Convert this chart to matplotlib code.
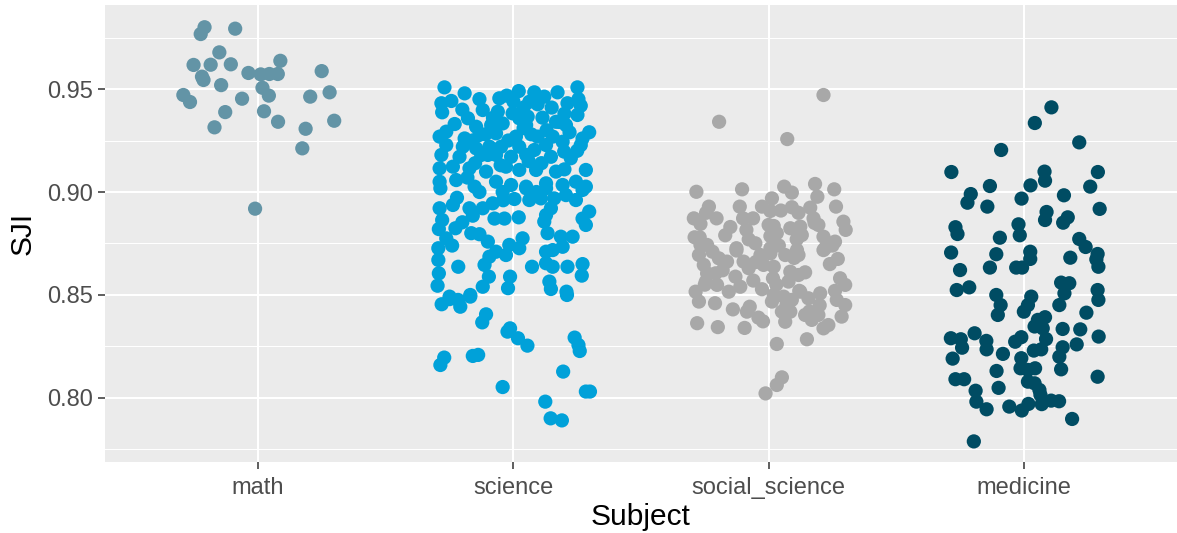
import matplotlib
matplotlib.use("Agg")
import matplotlib.pyplot as plt
from matplotlib.ticker import FixedLocator

plt.rcParams['font.family'] = ['Liberation Sans', 'DejaVu Sans']

categories = ["math", "science", "social_science", "medicine"]
colors = ["#6394A6", "#00A1D9", "#A8A8A8", "#004C63"]

math_off = [-0.21, -0.225, -0.09, -0.152, -0.253, -0.186, -0.107, 0.087, -0.22, -0.214,
            -0.038, 0.01, 0.044, 0.077, 0.249, -0.145, 0.017, -0.293, -0.267, -0.063,
            0.042, 0.204, 0.28, -0.129, 0.023, 0.078, 0.298, -0.171, 0.186, 0.173, -0.012]
math_sji = [0.980, 0.9767, 0.9793, 0.9678, 0.9617, 0.9618, 0.962, 0.9637, 0.956, 0.9544,
            0.9578, 0.9571, 0.9573, 0.9573, 0.9587, 0.9519, 0.9506, 0.9471, 0.9437, 0.9453,
            0.9468, 0.9463, 0.9484, 0.9388, 0.9392, 0.9341, 0.9346, 0.9314, 0.9307, 0.9212, 0.8919]

science_off = [
    -0.27, -0.191, -0.133, -0.055, -0.026, 0.021, 0.082, 0.121, 0.173, 0.251,
    -0.282, -0.243, -0.279, 0.0625, 0.095, 0.212, 0.255, 0.264,
    -0.12, -0.061, -0.003, -0.178, 0.023, 0.056, 0.114, 0.251, 0.167,
    -0.146, -0.087, -0.042, 0.05, 0.206,
    -0.263, -0.289, 0.297, 0.271, -0.191, -0.133, -0.068, 0.01, 0.095, 0.154, 0.193,
    -0.263, 0.264, -0.198, -0.146, -0.094, -0.048, 0.023, 0.082, 0.128, 0.199,
    -0.282, -0.211, -0.126, -0.068, -0.009, 0.05, 0.147, 0.225,
    -0.289, -0.237, -0.172, -0.107, -0.029, 0.023, 0.089, 0.167, 0.284,
    -0.289, -0.224, -0.152, -0.068, -0.009, 0.05, 0.128, 0.193, 0.245, 0.284,
    -0.16, -0.11, -0.02, 0.04, 0.07, 0.13, 0.18, 0.22, -0.23, -0.2, -0.08, 0.0, 0.04,
    0.15, 0.2, -0.15, -0.05, 0.11, 0.2, 0.25, -0.1, 0.06, -0.18, 0.09, -0.04,
    -0.286, -0.289, -0.279, -0.292, -0.263, -0.294, -0.24, -0.294, -0.292, -0.297,
    -0.216, -0.237, -0.221, -0.2, -0.227, -0.172, -0.159, -0.165, -0.133, -0.1,
    -0.12, -0.133, -0.074, -0.081, -0.035, -0.042, 0.004, 0.021, -0.068, -0.094,
    -0.113, -0.029, -0.016, 0.023, 0.036, -0.096, -0.12, -0.013, -0.021, -0.169,
    -0.25, -0.217, 0.0625, 0.108, 0.05, 0.128, 0.16, 0.206, 0.245, 0.271,
    0.128, 0.147, 0.121, 0.134, 0.186, 0.232, 0.284, 0.297, 0.271, 0.128,
    0.154, 0.193, 0.128, 0.154, 0.073, 0.212, 0.271, 0.268, 0.141, 0.147, 0.208,
    -0.281, -0.25, -0.208, -0.169, -0.107, -0.122, -0.013, -0.023, 0.018, 0.055,
    0.24, 0.255, 0.26, -0.271, -0.286, -0.159, -0.138, 0.195, -0.042, 0.284,
    0.3, 0.125, 0.146, 0.19, 0.21]
science_sji = [
    0.9508, 0.9479, 0.9451, 0.9455, 0.9468, 0.949, 0.9484, 0.9463, 0.9484, 0.9508,
    0.9431, 0.9442, 0.9387, 0.9438, 0.9426, 0.9431, 0.9451, 0.9419,
    0.9398, 0.939, 0.9382, 0.9358, 0.9358, 0.9366, 0.9361, 0.9374, 0.9341,
    0.9317, 0.9325, 0.9333, 0.9325, 0.9325,
    0.9293, 0.9269, 0.929, 0.926, 0.926, 0.9277, 0.9285, 0.9269, 0.9269, 0.9269, 0.9244,
    0.9228, 0.9228, 0.922, 0.9212, 0.922, 0.922, 0.922, 0.9204, 0.9228, 0.9196,
    0.918, 0.9171, 0.918, 0.918, 0.9171, 0.918, 0.9171, 0.9164,
    0.9115, 0.9123, 0.9115, 0.9099, 0.9123, 0.9107, 0.9107, 0.9099, 0.9107,
    0.905, 0.9058, 0.9026, 0.905, 0.9034, 0.9026, 0.9042, 0.9034, 0.905, 0.9026,
    0.925, 0.928, 0.925, 0.931, 0.928, 0.93, 0.934, 0.929, 0.933, 0.94, 0.936, 0.944, 0.941,
    0.941, 0.938, 0.914, 0.913, 0.914, 0.911, 0.92, 0.918, 0.915, 0.907, 0.9, 0.896,
    0.9018, 0.8921, 0.8864, 0.882, 0.8775, 0.8727, 0.874, 0.867, 0.8605, 0.8545,
    0.8637, 0.8937, 0.8972, 0.8853, 0.8824, 0.8921, 0.8885, 0.88, 0.8795, 0.8759,
    0.8921, 0.9, 0.8871, 0.8945, 0.8871, 0.9, 0.8966, 0.8877, 0.871, 0.8686,
    0.8646, 0.8694, 0.8743, 0.8727, 0.8775, 0.8589, 0.854, 0.8589, 0.8533, 0.85,
    0.8492, 0.8476, 0.8961, 0.8969, 0.9018, 0.9018, 0.8969, 0.8985, 0.8961, 0.901,
    0.8888, 0.8921, 0.8856, 0.88, 0.8783, 0.8783, 0.884, 0.8905, 0.8871, 0.871,
    0.8718, 0.8734, 0.8654, 0.8637, 0.8637, 0.8637, 0.865, 0.8594, 0.8565, 0.8529, 0.8516,
    0.8455, 0.848, 0.8443, 0.8492, 0.8406, 0.8367, 0.8338, 0.8322, 0.829, 0.8254,
    0.8293, 0.8257, 0.8228, 0.8196, 0.816, 0.8204, 0.8209, 0.8128, 0.8053, 0.8031,
    0.8031, 0.7982, 0.7901, 0.7891, 0.85]

social_off = [
    0.215, -0.194, 0.073, -0.283, -0.104, 0.061, 0.091, 0.182, 0.257, 0.191,
    0.013, -0.234, -0.245, -0.113, -0.026, 0.007, 0.048, 0.091, 0.117, 0.163,
    0.264, -0.293, -0.267, -0.204, -0.1, -0.061, 0.176, 0.195, 0.293, 0.302,
    0.02, 0.085, 0.124, -0.087, -0.078, -0.052, 0.007, 0.032, 0.13, 0.215,
    0.26, -0.267, -0.241, -0.126, 0.007, 0.111, 0.221,
    -0.273, -0.195, -0.163, -0.126, -0.098, -0.078, -0.032, 0.007, 0.065, 0.117,
    0.215, 0.271, -0.254, -0.241, -0.208, -0.246, -0.202, -0.13, -0.111, -0.156,
    -0.02, 0.02, 0.017, 0.085, 0.143, 0.078, 0.117, 0.28, 0.3, -0.286,
    -0.273, -0.026, 0.02, 0.013, 0.059, 0.091, 0.124, 0.156, 0.202, 0.267,
    0.3, -0.074, -0.085, 0.052, 0.085, 0.065, 0.143, 0.169, 0.195, 0.286,
    0.215, 0.234, -0.28, -0.199, -0.094, -0.022, 0.15, 0.032, 0.052, 0.032, -0.012,
    -0.27, -0.22, -0.15, -0.05, 0.04, 0.1, 0.18, 0.24, -0.25, -0.18,
    -0.06, 0.03, 0.12, 0.2, 0.26, -0.21, -0.14, -0.04, 0.07, 0.16,
    -0.29, -0.17, 0.0, 0.11, 0.25]
social_sji = [
    0.9471, 0.9341, 0.9257, 0.9001, 0.9013, 0.9026, 0.8997, 0.9039, 0.9013, 0.8977,
    0.8969, 0.8929, 0.8899, 0.8929, 0.8929, 0.8908, 0.891, 0.8926, 0.8899, 0.8924,
    0.8929, 0.8872, 0.8845, 0.8872, 0.8872, 0.8872, 0.8872, 0.884, 0.8856, 0.8816,
    0.8835, 0.8824, 0.8832, 0.8816, 0.877, 0.8751, 0.8786, 0.88, 0.8791, 0.8783,
    0.8759, 0.8743, 0.8743, 0.8727, 0.8727, 0.8718, 0.8727,
    0.8694, 0.8678, 0.8662, 0.8716, 0.8662, 0.863, 0.8694, 0.8702, 0.8694, 0.8694,
    0.8718, 0.8675, 0.8646, 0.8605, 0.8605, 0.8565, 0.8549, 0.8589, 0.854, 0.8516,
    0.8646, 0.8637, 0.8581, 0.8613, 0.861, 0.8565, 0.8597, 0.8581, 0.8549, 0.8516,
    0.8468, 0.8528, 0.85, 0.8468, 0.8492, 0.8476, 0.8516, 0.8484, 0.8508, 0.8476,
    0.8451, 0.8443, 0.8419, 0.8419, 0.8419, 0.837, 0.8403, 0.8379, 0.8403, 0.8395,
    0.8338, 0.8354, 0.8363, 0.8344, 0.834, 0.8372, 0.8285, 0.8262, 0.81, 0.8063, 0.8022,
    0.878, 0.871, 0.883, 0.866, 0.874, 0.868, 0.885, 0.865, 0.855, 0.862,
    0.857, 0.855, 0.852, 0.845, 0.852, 0.846, 0.843, 0.839, 0.845, 0.842,
    0.878, 0.879, 0.884, 0.877, 0.874]

medicine_off = [
    0.108, 0.043, 0.217, -0.089, -0.284, 0.081, 0.083, 0.29, -0.133, 0.026,
    0.26, -0.208, -0.221, -0.143, -0.009, 0.157, 0.297, 0.089, 0.083, 0.172,
    0.154, -0.268, -0.26, -0.021, -0.016, -0.094, 0.217, 0.242, -0.285, -0.108,
    0.025, 0.025, 0.182, 0.289, 0.284, -0.25, -0.133, -0.03, -0.007, 0.292,
    -0.263, -0.214, -0.108, -0.091, -0.102, 0.029, 0.016, 0.0, 0.146, 0.178,
    0.159, 0.139, 0.289, 0.292, 0.245, 0.055, 0.083, 0.042, 0.074, 0.087,
    0.152, 0.221, 0.293, 0.207, -0.286, -0.247, -0.242, -0.193, -0.147, -0.146,
    -0.082, -0.034, -0.01, -0.01, -0.013, 0.016, 0.044, 0.039, 0.068, 0.152,
    0.139, 0.146, -0.279, -0.107, 0.289, -0.268, -0.234, 0.016, 0.042, 0.061,
    0.065, -0.189, -0.099, -0.186, -0.146, -0.057, -0.008, 0.018, 0.07, 0.107,
    0.138, 0.189, -0.196]
medicine_sji = [
    0.9411, 0.9335, 0.9241, 0.9204, 0.9097, 0.9099, 0.9055, 0.9097, 0.9029, 0.9032,
    0.9026, 0.899, 0.8948, 0.8929, 0.8968, 0.8984, 0.8918, 0.8903, 0.8864, 0.8877,
    0.8851, 0.8829, 0.8796, 0.8843, 0.879, 0.8778, 0.8772, 0.8733, 0.8706, 0.8698,
    0.871, 0.8675, 0.8681, 0.8699, 0.8673, 0.8621, 0.8633, 0.8633, 0.8633, 0.8637,
    0.8524, 0.8537, 0.85, 0.8451, 0.8403, 0.8492, 0.8451, 0.8419, 0.856, 0.8557,
    0.8508, 0.8451, 0.8524, 0.8476, 0.8414, 0.8379, 0.8392, 0.8347, 0.8338, 0.8286,
    0.8335, 0.8333, 0.8298, 0.826, 0.829, 0.8285, 0.8244, 0.8314, 0.8277, 0.8236,
    0.8214, 0.8273, 0.8295, 0.8193, 0.8144, 0.8136, 0.8144, 0.823, 0.8236, 0.8246,
    0.82, 0.8139, 0.8191, 0.8131, 0.8103, 0.8091, 0.8091, 0.8079, 0.8071, 0.8039,
    0.8015, 0.8035, 0.8049, 0.7982, 0.7945, 0.7958, 0.7939, 0.7971, 0.797, 0.7987,
    0.7984, 0.7898, 0.7789]

y_ticks = [0.80, 0.85, 0.90, 0.95]
y_minor = [0.775, 0.825, 0.875, 0.925, 0.975]

groups = [(math_off, math_sji), (science_off, science_sji),
          (social_off, social_sji), (medicine_off, medicine_sji)]

W, H = 1177, 533
fig = plt.figure(figsize=(W / 100, H / 100), dpi=100)
left, right, top, bottom = 105, 1177, 5, 462
ax = fig.add_axes([left / W, 1 - bottom / H, (right - left) / W, (bottom - top) / H])
ax.set_facecolor("#EBEBEB")

for i, ((offs, vals), col) in enumerate(zip(groups, colors)):
    xs = [i + 1 + o for o in offs]
    ax.scatter(xs, vals, s=105, color=col, edgecolors="none", zorder=3)

ax.set_xlim(0.4, 4.6)
ax.set_ylim(0.7689, 0.9908)
ax.set_xticks(range(1, len(categories) + 1))
ax.set_xticklabels(categories)
ax.set_yticks(y_ticks)
ax.set_yticklabels([f"{v:.2f}" for v in y_ticks])
ax.yaxis.set_minor_locator(FixedLocator(y_minor))

ax.grid(which="major", color="white", linewidth=1.5, zorder=0)
ax.grid(which="minor", axis="y", color="white", linewidth=0.75, zorder=0)
ax.set_axisbelow(True)
for s in ax.spines.values():
    s.set_visible(False)

ax.tick_params(axis="y", which="major", length=5, width=1.1, color="#333333",
               labelsize=17, labelcolor="#4D4D4D", pad=4)
ax.tick_params(axis="x", which="major", length=5, width=1.1, color="#333333",
               labelsize=17, labelcolor="#4D4D4D", pad=6)
ax.tick_params(axis="both", which="minor", length=0)

ax.set_xlabel("Subject", fontsize=21.5, color="black", labelpad=3)
ax.set_ylabel("SJI", fontsize=21.5, color="black", labelpad=7)

fig.savefig("out.png", dpi=100)
